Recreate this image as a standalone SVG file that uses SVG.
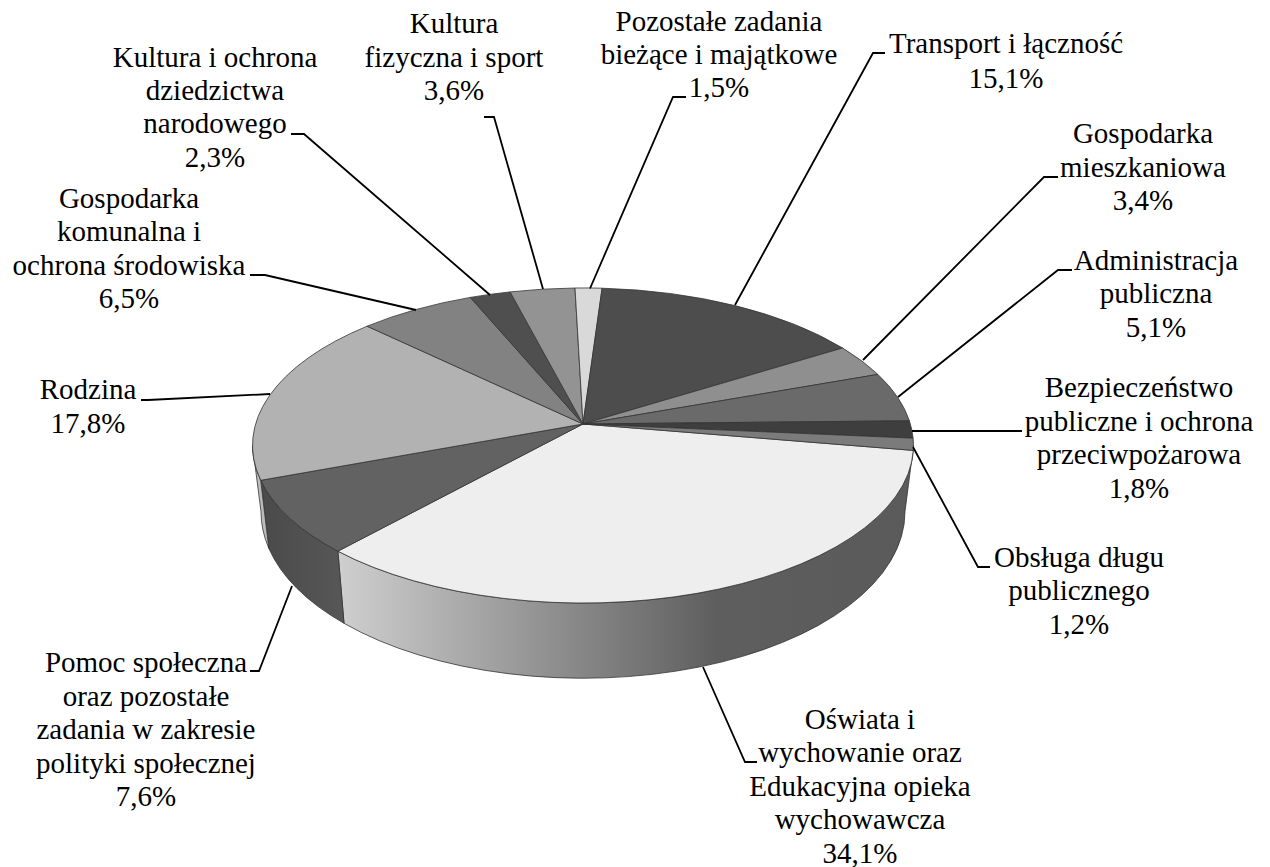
<svg xmlns="http://www.w3.org/2000/svg" width="1270" height="867" viewBox="0 0 1270 867">
<style>
.lbl{font-family:'Liberation Serif','Times New Roman','DejaVu Serif',serif;font-size:29px;fill:#000;text-anchor:middle}
.s{stroke:#333;stroke-width:0.8;stroke-linejoin:round}
.ld{fill:none;stroke:#000;stroke-width:1.8}
</style>
<defs>
<linearGradient id="gOsw" gradientUnits="userSpaceOnUse" x1="338" y1="0" x2="913" y2="0">
<stop offset="0" stop-color="#cfcfcf"/>
<stop offset="0.66" stop-color="#5e5e5e"/>
<stop offset="1" stop-color="#5a5a5a"/>
</linearGradient>
<linearGradient id="gPom" gradientUnits="userSpaceOnUse" x1="260" y1="0" x2="344" y2="0">
<stop offset="0" stop-color="#4a4a4a"/>
<stop offset="1" stop-color="#575757"/>
</linearGradient>
</defs>
<rect width="1270" height="867" fill="#fff"/>

<g font-family="Liberation Serif, serif">
<g id="oswiata">
<path class="s" fill="url(#gOsw)" d="M913.5 445.5 A330.5 157.5 0 0 1 337.9 551.2 L344 623.3 A322 166.5 0 0 0 905 511.5 Z"/>
<path class="s" fill="#eeeeee" d="M583 424 L913.3 450.4 A330.5 157.5 0 0 1 337.9 551.2 Z"/>
<text class="lbl" x="860" y="729">Oświata i</text>
<text class="lbl" x="860" y="762">wychowanie oraz</text>
<text class="lbl" x="860" y="796">Edukacyjna opieka</text>
<text class="lbl" x="860" y="829">wychowawcza</text>
<text class="lbl" x="860" y="863">34,1%</text>
</g>
<g id="pomoc">
<path class="s" fill="url(#gPom)" d="M337.9 551.2 A330.5 157.5 0 0 1 260.7 480.3 L268.8 548.3 A322 166.5 0 0 0 344 623.3 Z"/>
<path class="s" fill="#626262" d="M583 424 L337.9 551.2 A330.5 157.5 0 0 1 260.7 480.3 Z"/>
<text class="lbl" x="146" y="672">Pomoc społeczna</text>
<text class="lbl" x="146" y="706">oraz pozostałe</text>
<text class="lbl" x="146" y="739">zadania w zakresie</text>
<text class="lbl" x="146" y="773">polityki społecznej</text>
<text class="lbl" x="146" y="806">7,6%</text>
</g>
<g id="rodzina">
<path class="s" fill="#bcbcbc" d="M260.7 480.3 A330.5 157.5 0 0 1 252.5 445.5 L261 511.5 A322 166.5 0 0 0 268.8 548.3 Z"/>
<path class="s" fill="#b2b2b2" d="M583 424 L260.7 480.3 A330.5 157.5 0 0 1 367.1 326.2 Z"/>
<text class="lbl" x="88" y="399">Rodzina</text>
<text class="lbl" x="88" y="433">17,8%</text>
</g>
<g id="gospodarka-komunalna">
<path class="s" fill="#828282" d="M583 424 L367.1 326.2 A330.5 157.5 0 0 1 470.3 297.4 Z"/>
<text class="lbl" x="129" y="208">Gospodarka</text>
<text class="lbl" x="129" y="241">komunalna i</text>
<text class="lbl" x="129" y="275">ochrona środowiska</text>
<text class="lbl" x="129" y="308">6,5%</text>
</g>
<g id="kultura-ochrona">
<path class="s" fill="#4f4f4f" d="M583 424 L470.3 297.4 A330.5 157.5 0 0 1 510.1 291.9 Z"/>
<text class="lbl" x="215" y="67">Kultura i ochrona</text>
<text class="lbl" x="215" y="100">dziedzictwa</text>
<text class="lbl" x="215" y="133">narodowego</text>
<text class="lbl" x="215" y="167">2,3%</text>
</g>
<g id="kultura-fizyczna">
<path class="s" fill="#939393" d="M583 424 L510.1 291.9 A330.5 157.5 0 0 1 575 288 Z"/>
<text class="lbl" x="454" y="33">Kultura</text>
<text class="lbl" x="454" y="67">fizyczna i sport</text>
<text class="lbl" x="454" y="100">3,6%</text>
</g>
<g id="pozostale">
<path class="s" fill="#d9d9d9" d="M583 424 L575 288 A330.5 157.5 0 0 1 602.1 288.2 Z"/>
<text class="lbl" x="719" y="31">Pozostałe zadania</text>
<text class="lbl" x="719" y="64">bieżące i majątkowe</text>
<text class="lbl" x="719" y="97">1,5%</text>
</g>
<g id="transport">
<path class="s" fill="#4d4d4d" d="M583 424 L602.1 288.2 A330.5 157.5 0 0 1 842.6 348 Z"/>
<text class="lbl" x="1006" y="53">Transport i łączność</text>
<text class="lbl" x="1006" y="88">15,1%</text>
</g>
<g id="gospodarka-mieszkaniowa">
<path class="s" fill="#8f8f8f" d="M583 424 L842.6 348 A330.5 157.5 0 0 1 877.9 374.4 Z"/>
<text class="lbl" x="1143" y="143">Gospodarka</text>
<text class="lbl" x="1143" y="177">mieszkaniowa</text>
<text class="lbl" x="1143" y="210">3,4%</text>
</g>
<g id="administracja">
<path class="s" fill="#6a6a6a" d="M583 424 L877.9 374.4 A330.5 157.5 0 0 1 909.4 420.8 Z"/>
<text class="lbl" x="1156" y="270">Administracja</text>
<text class="lbl" x="1156" y="303">publiczna</text>
<text class="lbl" x="1156" y="337">5,1%</text>
</g>
<g id="bezpieczenstwo">
<path class="s" fill="#3e3e3e" d="M583 424 L909.4 420.8 A330.5 157.5 0 0 1 913.1 438.2 Z"/>
<text class="lbl" x="1139" y="397">Bezpieczeństwo</text>
<text class="lbl" x="1139" y="431">publiczne i ochrona</text>
<text class="lbl" x="1139" y="464">przeciwpożarowa</text>
<text class="lbl" x="1139" y="498">1,8%</text>
</g>
<g id="obsluga-dlugu">
<path class="s" fill="#7b7b7b" d="M583 424 L913.1 438.2 A330.5 157.5 0 0 1 913.3 450.4 Z"/>
<text class="lbl" x="1079" y="567">Obsługa długu</text>
<text class="lbl" x="1079" y="600">publicznego</text>
<text class="lbl" x="1079" y="634">1,2%</text>
</g>
</g>

<g id="connectors">
<path class="ld" d="M291 134 H304 L490 295"/>
<path class="ld" d="M484 117 H494 L543 289"/>
<path class="ld" d="M686 97 H673 L590 288.5"/>
<path class="ld" d="M885 53 H873 L735 305"/>
<path class="ld" d="M1058 177 H1044 L863 360"/>
<path class="ld" d="M1072 270 H1058 L898 397"/>
<path class="ld" d="M1022 431 H912"/>
<path class="ld" d="M990 567 H978 L913 447"/>
<path class="ld" d="M757 762 H745 L703 667"/>
<path class="ld" d="M250 671 H259 L292 586"/>
<path class="ld" d="M141 400 H148 L270 394"/>
<path class="ld" d="M250 275 H265 L416 310"/>
</g>
</svg>
